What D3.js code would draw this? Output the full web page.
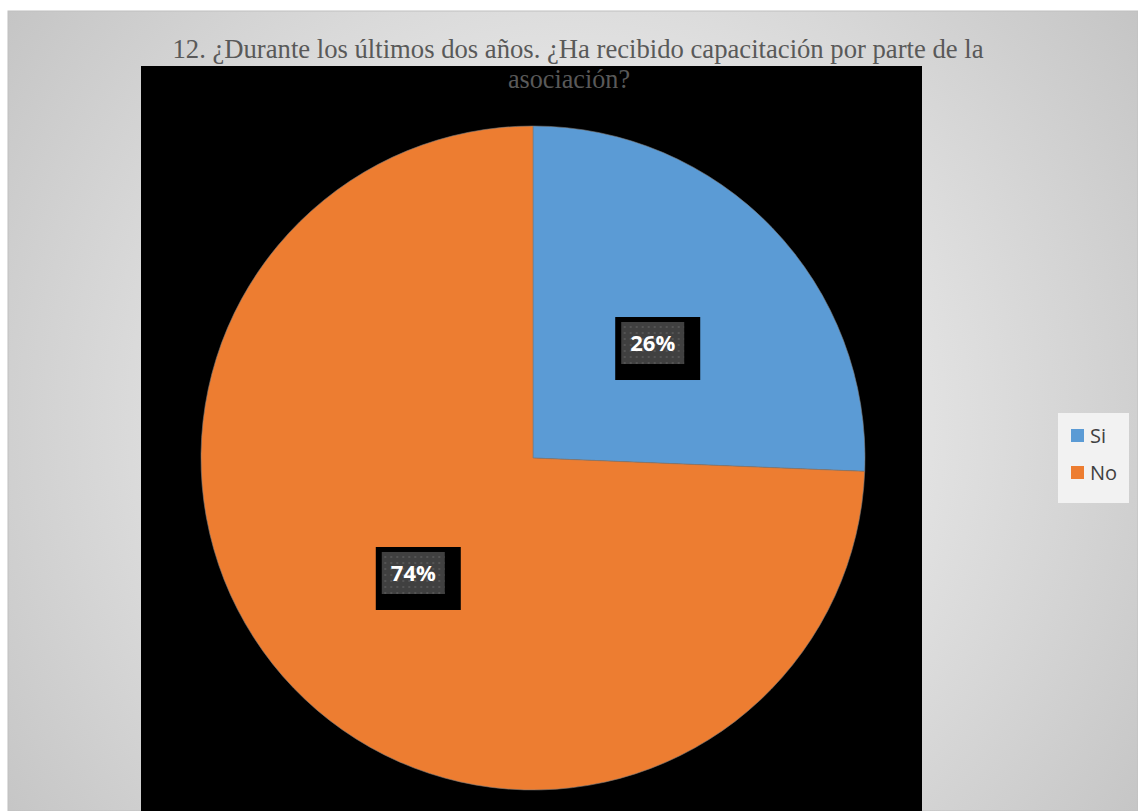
<!DOCTYPE html>
<html><head><meta charset="utf-8">
<script src="https://cdn.jsdelivr.net/npm/d3@7"></script>
<style>body{margin:0;background:#fff;}svg{display:block;}</style>
</head><body>
<script>
const categories = ["Si", "No"];
const values = [10, 29];
const colors = ["#5b9bd5", "#ed7d31"];
const titleLines = ["12. ¿Durante los últimos dos años. ¿Ha recibido capacitación por parte de la", "asociación?"];

const W = 1138, H = 811;
const svg = d3.select("body").append("svg").attr("width", W).attr("height", H);
const defs = svg.append("defs");
const rg = defs.append("radialGradient").attr("id", "bg").attr("gradientUnits", "userSpaceOnUse")
  .attr("cx", 573).attr("cy", 420).attr("r", 720);
rg.append("stop").attr("offset", "0").attr("stop-color", "#ffffff");
rg.append("stop").attr("offset", "1").attr("stop-color", "#c3c3c3");
const pat = defs.append("pattern").attr("id", "dots").attr("patternUnits", "userSpaceOnUse")
  .attr("width", 6).attr("height", 6);
pat.append("rect").attr("width", 6).attr("height", 6).attr("fill", "#404040");
pat.append("rect").attr("x", 1).attr("y", 1).attr("width", 2).attr("height", 2).attr("fill", "#545454");

// chart area
svg.append("rect").attr("x", 8).attr("y", 11).attr("width", W - 8).attr("height", H - 11)
  .attr("fill", "url(#bg)").attr("stroke", "#c0c0c0").attr("stroke-width", 1);

// plot area
svg.append("rect").attr("x", 141).attr("y", 66).attr("width", 781).attr("height", H - 66).attr("fill", "#000");

// title
svg.append("text").attr("x", 578).attr("y", 58).attr("text-anchor", "middle")
  .attr("font-family", "Liberation Serif").attr("font-size", 28).attr("fill", "#595959")
  .attr("textLength", 811).attr("lengthAdjust", "spacingAndGlyphs").text(titleLines[0]);
svg.append("text").attr("x", 569).attr("y", 88).attr("text-anchor", "middle")
  .attr("font-family", "Liberation Serif").attr("font-size", 28).attr("fill", "#595959")
  .attr("textLength", 122).attr("lengthAdjust", "spacingAndGlyphs").text(titleLines[1]);

// pie
const cx = 533, cy = 458, r = 332;
const pie = d3.pie().sort(null).value(d => d)(values);
const arc = d3.arc().innerRadius(0).outerRadius(r);
const total = d3.sum(values);
const g = svg.append("g").attr("transform", `translate(${cx},${cy})`);
g.selectAll("path").data(pie).join("path").attr("d", arc)
  .attr("fill", (d, i) => colors[i]).attr("stroke", "#7a7a7a").attr("stroke-width", 0.6);

const lab = g.selectAll("g.lab").data(pie).join("g").attr("class", "lab")
  .attr("transform", d => `translate(${arc.centroid(d)})`);
lab.append("rect").attr("x", -37.5).attr("y", -26).attr("width", 85).attr("height", 63).attr("fill", "#000");
lab.append("rect").attr("x", -31.5).attr("y", -21).attr("width", 63).attr("height", 42).attr("fill", "url(#dots)");
lab.append("text").attr("text-anchor", "middle").attr("y", 8)
  .attr("font-family", "Open Sans").attr("font-weight", "bold").attr("font-size", 22).attr("fill", "#fff")
  .text(d => Math.round(d.value / total * 100) + "%");

// legend
const lg = svg.append("g");
lg.append("rect").attr("x", 1058).attr("y", 413).attr("width", 71).attr("height", 90).attr("fill", "#f2f2f2");
const items = lg.selectAll("g.it").data(categories).join("g").attr("class", "it")
  .attr("transform", (d, i) => `translate(1071,${429 + i * 37})`);
items.append("rect").attr("width", 13).attr("height", 13).attr("fill", (d, i) => colors[i]);
items.append("text").attr("x", 19).attr("y", 14).attr("font-family", "Open Sans").attr("font-size", 20)
  .attr("fill", "#404040").text(d => d);
</script>
</body></html>
